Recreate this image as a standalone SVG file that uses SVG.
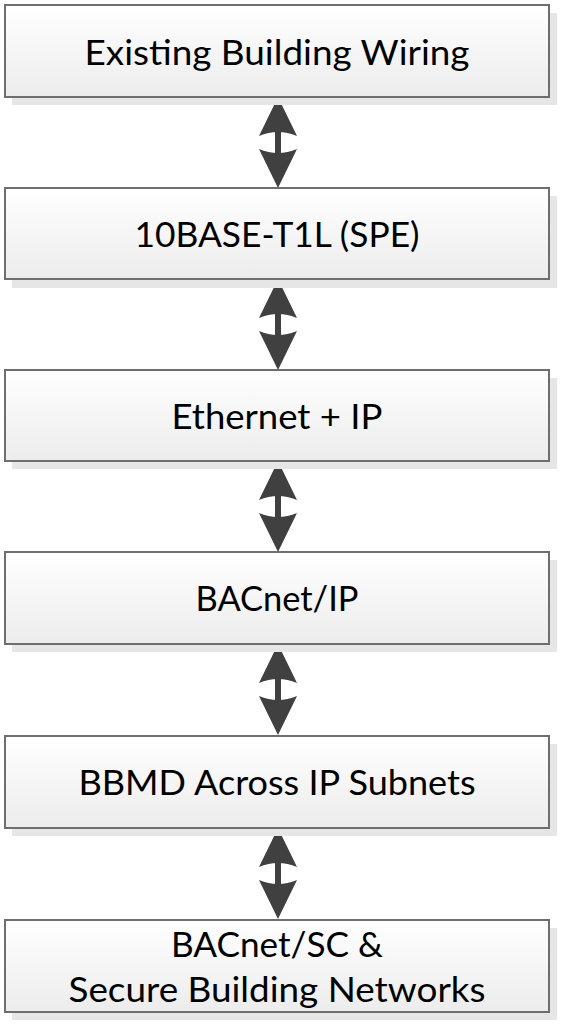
<svg xmlns="http://www.w3.org/2000/svg" width="565" height="1024" viewBox="0 0 565 1024">
<defs>
<linearGradient id="g" x1="0" y1="0" x2="0" y2="1">
<stop offset="0" stop-color="#ffffff"/>
<stop offset="1" stop-color="#ececec"/>
</linearGradient>
<style>
.sh{fill:#e6e6e6;}
.bx{fill:url(#g);stroke:#6e6e6e;stroke-width:2;}
.tx{font-family:Lato,"Open Sans",sans-serif;font-size:34px;fill:#000;text-anchor:middle;}
.ar{fill:#404040;}
</style>
<path id="arr" d="M0,0 L19,39 Q0,31 -19,39 Z M-3,33 H3 V58 H-3 Z M0,91 L-19,52 Q0,60 19,52 Z"/>
</defs>
<g id="connectors">
<use href="#arr" class="ar" x="278" y="97"/>
<use href="#arr" class="ar" x="278" y="279"/>
<use href="#arr" class="ar" x="278" y="461"/>
<use href="#arr" class="ar" x="278" y="644"/>
<use href="#arr" class="ar" x="278" y="828"/>
</g>
<g id="n1">
<rect class="sh" x="12" y="13" width="545" height="92"/>
<rect class="bx" x="5" y="5" width="544" height="92"/>
<text class="tx" x="277" y="65" textLength="385" lengthAdjust="spacingAndGlyphs">Existing Building Wiring</text>
</g>
<g id="n2">
<rect class="sh" x="12" y="196" width="545" height="92"/>
<rect class="bx" x="5" y="188" width="544" height="91"/>
<text class="tx" x="277" y="247" textLength="285" lengthAdjust="spacingAndGlyphs">10BASE-T1L (SPE)</text>
</g>
<g id="n3">
<rect class="sh" x="12" y="378" width="545" height="91"/>
<rect class="bx" x="5" y="370" width="544" height="91"/>
<text class="tx" x="277" y="429" textLength="211" lengthAdjust="spacingAndGlyphs">Ethernet + IP</text>
</g>
<g id="n4">
<rect class="sh" x="12" y="560" width="545" height="92"/>
<rect class="bx" x="5" y="552" width="544" height="92"/>
<text class="tx" x="277" y="611" textLength="163" lengthAdjust="spacingAndGlyphs">BACnet/IP</text>
</g>
<g id="n5">
<rect class="sh" x="12" y="744" width="545" height="92"/>
<rect class="bx" x="5" y="736" width="544" height="92"/>
<text class="tx" x="277" y="795" textLength="397" lengthAdjust="spacingAndGlyphs">BBMD Across IP Subnets</text>
</g>
<g id="n6">
<rect class="sh" x="12" y="928" width="545" height="92"/>
<rect class="bx" x="5" y="920" width="544" height="92"/>
<text class="tx" x="277" y="957" textLength="212" lengthAdjust="spacingAndGlyphs">BACnet/SC &amp;</text>
<text class="tx" x="277" y="1002" textLength="417" lengthAdjust="spacingAndGlyphs">Secure Building Networks</text>
</g>
</svg>
